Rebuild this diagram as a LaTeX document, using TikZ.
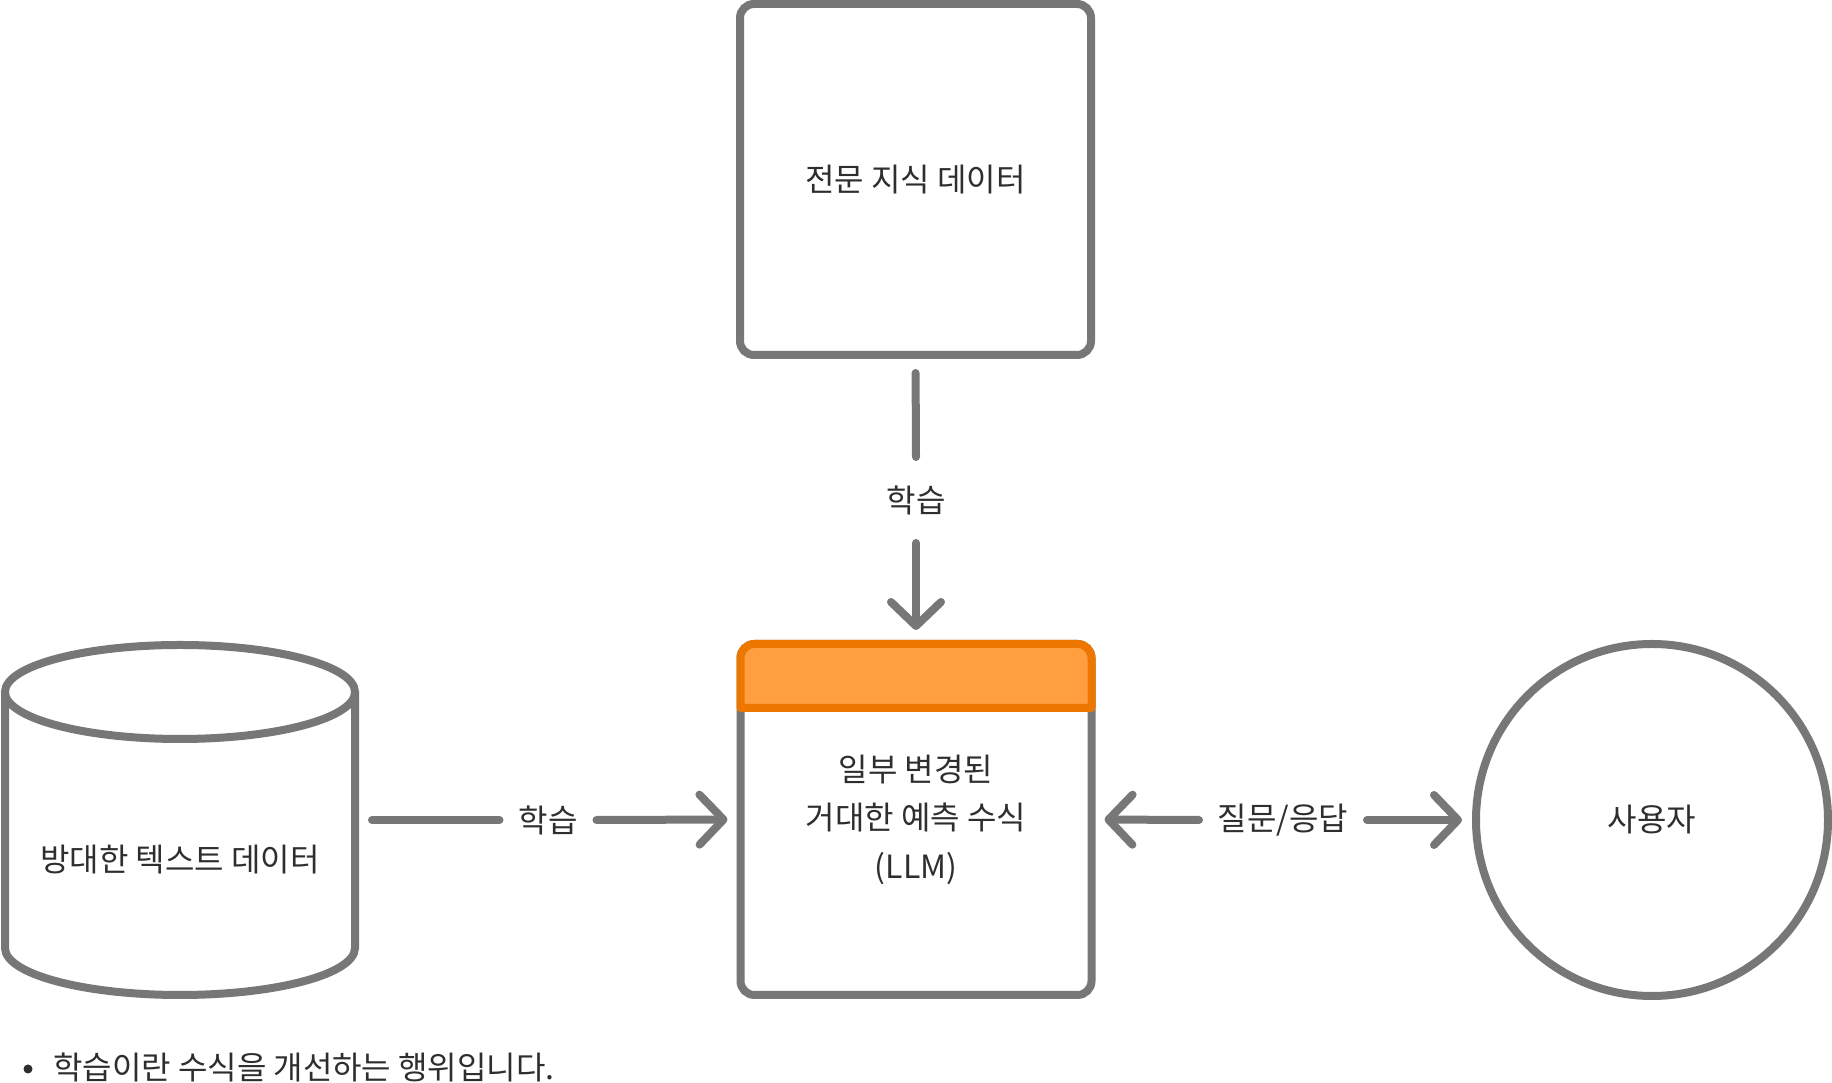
\documentclass[tikz,border=0pt]{standalone}
\usepackage{fontspec}
\newfontfamily\kr{Noto Sans CJK KR}
\usetikzlibrary{arrows.meta}
\definecolor{edge}{HTML}{777777}
\definecolor{txt}{HTML}{2E2E2E}
\definecolor{hdrfill}{HTML}{FF9F40}
\definecolor{hdredge}{HTML}{EE7700}
\begin{document}
\begin{tikzpicture}[x=1pt,y=1pt,
  lab/.style={font=\kr\fontsize{32}{48.5}\selectfont, text=txt, align=center},
  box/.style={lab, draw=edge, fill=white, line width=8pt, rounded corners=14pt,
    minimum width=351pt, minimum height=351pt, inner sep=0pt, outer sep=0pt},
  frame/.style={minimum width=350pt, minimum height=350pt, inner sep=0pt, outer sep=0pt},
  shapeline/.style={draw=edge, line width=8pt, fill=white},
  circ/.style={lab, circle, draw=edge, fill=white, line width=8pt, minimum size=352pt,
    inner sep=0pt, outer sep=0pt},
  hdr/.style={draw=hdredge, fill=hdrfill, line width=8pt, line join=round},
  conn/.style={draw=edge, line width=8pt, line cap=round},
  arr/.style={-{Straight Barb[length=24pt, width=50pt, round]}},
  edgelabel/.style={lab, inner sep=0pt, outer sep=0pt},
]
\useasboundingbox (0,0) rectangle (1832,1083);
\fill[white] (0,0) rectangle (1832,1083);

% nodes
\node[box] (top) at (915.5,903.5) {전문 지식 데이터};
\node[box] (llm) at (916,263.5) {일부 변경된\\거대한 예측 수식\\(LLM)};
\draw[hdr] ([yshift=-64pt]llm.north west) -- ([yshift=-14pt]llm.north west)
  arc[start angle=180, end angle=90, radius=14pt] -- ([xshift=-14pt]llm.north east)
  arc[start angle=90, end angle=0, radius=14pt] -- ([yshift=-64pt]llm.north east) -- cycle;

\node[frame] (db) at (180,263) {};
\draw[shapeline] ([yshift=-47pt]db.north west) -- ([yshift=47pt]db.south west)
  arc[start angle=180, end angle=360, x radius=175pt, y radius=47pt]
  -- ([yshift=-47pt]db.north east);
\draw[shapeline] ([yshift=-47pt]db.north) ellipse [x radius=175pt, y radius=47pt];
\node[lab] (dbtxt) at ([yshift=-40pt]db.center) {방대한 텍스트 데이터};

\node[circ] (user) at (1652,263) {사용자};

% edge labels
\node[edgelabel, minimum width=97pt] (l1) at (548,263) {학습};
\node[edgelabel, minimum height=86pt] (l2) at (916,583) {학습};
\node[edgelabel, minimum width=168pt] (l3) at (1283,263) {질문/응답};

% connectors
\draw[conn, shorten <=17pt] (db.east) -- (l1.west);
\draw[conn, arr, shorten >=13pt] (l1.east) -- (llm.west);
\draw[conn, shorten <=18pt] (top.south) -- (l2.north);
\draw[conn, arr, shorten >=14pt] (l2.south) -- (llm.north);
\draw[conn, arr, shorten >=13pt] (l3.west) -- (llm.east);
\draw[conn, arr, shorten >=14pt] (l3.east) -- (user.west);

% note
\node[circle, fill=txt, minimum size=9pt, inner sep=0pt] (bul) at (28,14) {};
\node[lab, anchor=west, font=\kr\fontsize{32}{38}\selectfont, inner sep=0pt] (note) at (53,16) {학습이란 수식을 개선하는 행위입니다.};
\end{tikzpicture}
\end{document}
